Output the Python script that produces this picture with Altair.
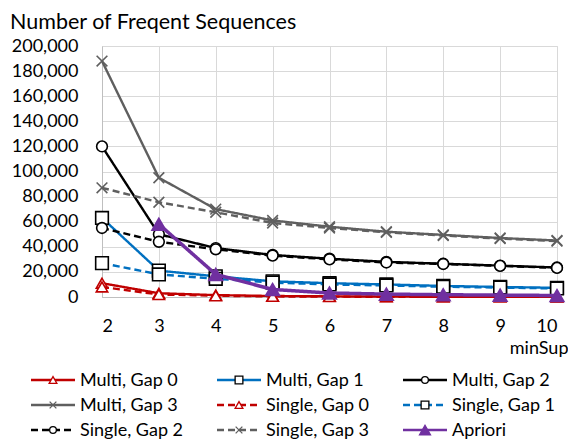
import altair as alt
import pandas as pd

# ---------------- data ----------------
min_sup = [2, 3, 4, 5, 6, 7, 8, 9, 10]
multi_gap0 = [11000, 3000, 1500, 800, 500, 300, 200, 150, 100]
multi_gap1 = [63000, 21000, 16500, 12500, 11000, 10000, 8800, 8000, 7300]
multi_gap2 = [120000, 50000, 39000, 33500, 30500, 28000, 26500, 25000, 23500]
multi_gap3 = [188000, 95000, 70000, 61000, 56000, 52000, 49500, 47000, 45000]
single_gap0 = [8000, 2000, 1000, 500, 300, 200, 150, 100, 80]
single_gap1 = [27000, 18000, 14500, 11500, 10000, 9200, 8200, 7500, 6800]
single_gap2 = [55000, 44000, 38000, 33000, 30000, 27500, 26300, 24800, 23200]
single_gap3 = [87000, 75500, 67500, 59000, 55000, 51500, 49000, 46500, 44500]
apriori_sup = [3, 4, 5, 6, 7, 8, 9, 10]
apriori = [58000, 18000, 6000, 3200, 2300, 1800, 1500, 1200]
y_ticks = [0, 20000, 40000, 60000, 80000, 100000, 120000, 140000, 160000, 180000, 200000]

series_names = ["Multi, Gap 0", "Multi, Gap 1", "Multi, Gap 2", "Multi, Gap 3",
                "Single, Gap 0", "Single, Gap 1", "Single, Gap 2", "Single, Gap 3",
                "Apriori"]
series_values = [multi_gap0, multi_gap1, multi_gap2, multi_gap3,
                 single_gap0, single_gap1, single_gap2, single_gap3, apriori]
series_x = [min_sup] * 8 + [apriori_sup]

# legend grid placement (column, row) in reading order
legend_col = [0, 1, 2, 0, 1, 2, 0, 1, 2]
legend_row = [0, 0, 0, 1, 1, 1, 2, 2, 2]

# ---------------- styles / layout ----------------
RED, BLUE, BLACK, GRAY, PURPLE = "#C00000", "#0070C0", "#000000", "#5F5F5F", "#7030A0"
XPATH = "M-1,-1L1,1M-1,1L1,-1"
DASH = [7, 4]
styles = {
    "Multi, Gap 0": dict(color=RED, dash=[1, 0], shape="triangle-up", fill="white", stroke=RED, size=130, lsize=60, width=2.4),
    "Multi, Gap 1": dict(color=BLUE, dash=[1, 0], shape="square", fill="white", stroke=BLACK, size=160, lsize=60, width=2.4),
    "Multi, Gap 2": dict(color=BLACK, dash=[1, 0], shape="circle", fill="white", stroke=BLACK, size=115, lsize=45, width=2.4),
    "Multi, Gap 3": dict(color=GRAY, dash=[1, 0], shape=XPATH, fill="none", stroke=GRAY, size=115, lsize=45, width=2.4),
    "Single, Gap 0": dict(color=RED, dash=DASH, shape="triangle-up", fill="white", stroke=RED, size=130, lsize=60, width=2.4),
    "Single, Gap 1": dict(color=BLUE, dash=DASH, shape="square", fill="white", stroke=BLACK, size=160, lsize=60, width=2.4),
    "Single, Gap 2": dict(color=BLACK, dash=DASH, shape="circle", fill="white", stroke=BLACK, size=115, lsize=45, width=2.4),
    "Single, Gap 3": dict(color=GRAY, dash=DASH, shape=XPATH, fill="none", stroke=GRAY, size=115, lsize=45, width=2.4),
    "Apriori": dict(color=PURPLE, dash=[1, 0], shape="triangle-up", fill=PURPLE, stroke=PURPLE, size=190, lsize=120, width=3.5),
}

FONT = "Lato"
PAD_L, PAD_T, PAD_R, PAD_B = 102, 46, 11, 144
PLOT_W, PLOT_H = 568 - PAD_L - PAD_R, 441 - PAD_T - PAD_B
X_MIN, X_MAX = 2, 10
Y_MAX = 200000

# legend layout in pixels (relative to plot area's left / bottom edge)
LEG_COL0_PX = 31 - PAD_L
LEG_COL_STEP = 186
LEG_LINE_LEN = 44
LEG_TEXT_GAP = 49
LEG_ROW0_PX = 83
LEG_ROW_STEP = 25


def px_to_x(px):
    return X_MIN + px / PLOT_W * (X_MAX - X_MIN)


def px_to_y(px_below):
    return -px_below / PLOT_H * Y_MAX


rows = []
for name, xs, vals in zip(series_names, series_x, series_values):
    for x, v in zip(xs, vals):
        rows.append({"series": name, "minSup": x, "count": v})
df = pd.DataFrame(rows)

leg = []
for name, c, r in zip(series_names, legend_col, legend_row):
    start = LEG_COL0_PX + c * LEG_COL_STEP
    leg.append({"series": name,
                "x0": px_to_x(start), "x1": px_to_x(start + LEG_LINE_LEN),
                "xm": px_to_x(start + LEG_LINE_LEN / 2), "xt": px_to_x(start + LEG_TEXT_GAP),
                "ly": px_to_y(LEG_ROW0_PX + r * LEG_ROW_STEP)})
leg_df = pd.DataFrame(leg)

xs_scale = alt.Scale(domain=[X_MIN, X_MAX], nice=False, zero=False)
ys_scale = alt.Scale(domain=[0, Y_MAX], nice=False)

x_axis = alt.Axis(values=min_sup, format="d", title="minSup", grid=True, gridColor="#D9D9D9",
                  domainColor="#BFBFBF", ticks=False, labelFontSize=18, labelFont=FONT,
                  labelColor="black", labelPadding=20, labelOverlap=False, titleFont=FONT,
                  titleFontSize=18, titleFontWeight="normal", titleColor="black",
                  titleAlign="right", titleAnchor="end", titleX=PLOT_W + 11, titleY=56,
                  titleBaseline="alphabetic")
y_axis = alt.Axis(values=y_ticks, format=",d", title=None, grid=True, gridColor="#D9D9D9",
                  domainColor="#BFBFBF", ticks=False, labelFontSize=18, labelFont=FONT,
                  labelColor="black", labelPadding=24, labelOverlap=False)


def X(field):
    return alt.X(field, type="quantitative", scale=xs_scale, axis=x_axis, title="minSup")


def Y(field):
    return alt.Y(field, type="quantitative", scale=ys_scale, axis=y_axis, title=None)


layers = []
for name in series_names:
    s = styles[name]
    base = alt.Chart(df).transform_filter(alt.datum.series == name)
    layers.append(base.mark_line(color=s["color"], strokeDash=s["dash"], strokeWidth=s["width"])
                  .encode(x=X("minSup"), y=Y("count")))
    layers.append(base.mark_point(shape=s["shape"], size=s["size"], filled=True, fill=s["fill"],
                                  stroke=s["stroke"], strokeWidth=1.6, opacity=1)
                  .encode(x=X("minSup"), y=Y("count")))

# legend drawn through the same scales
for name in series_names:
    s = styles[name]
    b = alt.Chart(leg_df).transform_filter(alt.datum.series == name)
    layers.append(b.mark_rule(color=s["color"], strokeDash=s["dash"], strokeWidth=2.5).encode(
        x=X("x0"), x2="x1:Q", y=Y("ly")))
    layers.append(b.mark_point(shape=s["shape"], size=s["lsize"], filled=True, fill=s["fill"],
                               stroke=s["stroke"], strokeWidth=1.3, opacity=1).encode(
        x=X("xm"), y=Y("ly")))
layers.append(alt.Chart(leg_df).mark_text(align="left", baseline="middle", font=FONT,
                                          fontSize=18, color="black", dy=1).encode(
    x=X("xt"), y=Y("ly"), text="series:N"))

chart = alt.layer(*layers).properties(
    width=PLOT_W, height=PLOT_H,
    autosize=alt.AutoSizeParams(type="none"),
    padding={"left": PAD_L, "top": PAD_T, "right": PAD_R, "bottom": PAD_B},
    title=alt.TitleParams("Number of Freqent Sequences", anchor="start", frame="group",
                          font=FONT, fontSize=21.5, fontWeight="normal", color="black",
                          offset=4, dx=-(PAD_L - 10)),
).configure_view(stroke=None).configure(background="white")

chart.save("out.html", embed_options={"renderer": "svg", "actions": False})
